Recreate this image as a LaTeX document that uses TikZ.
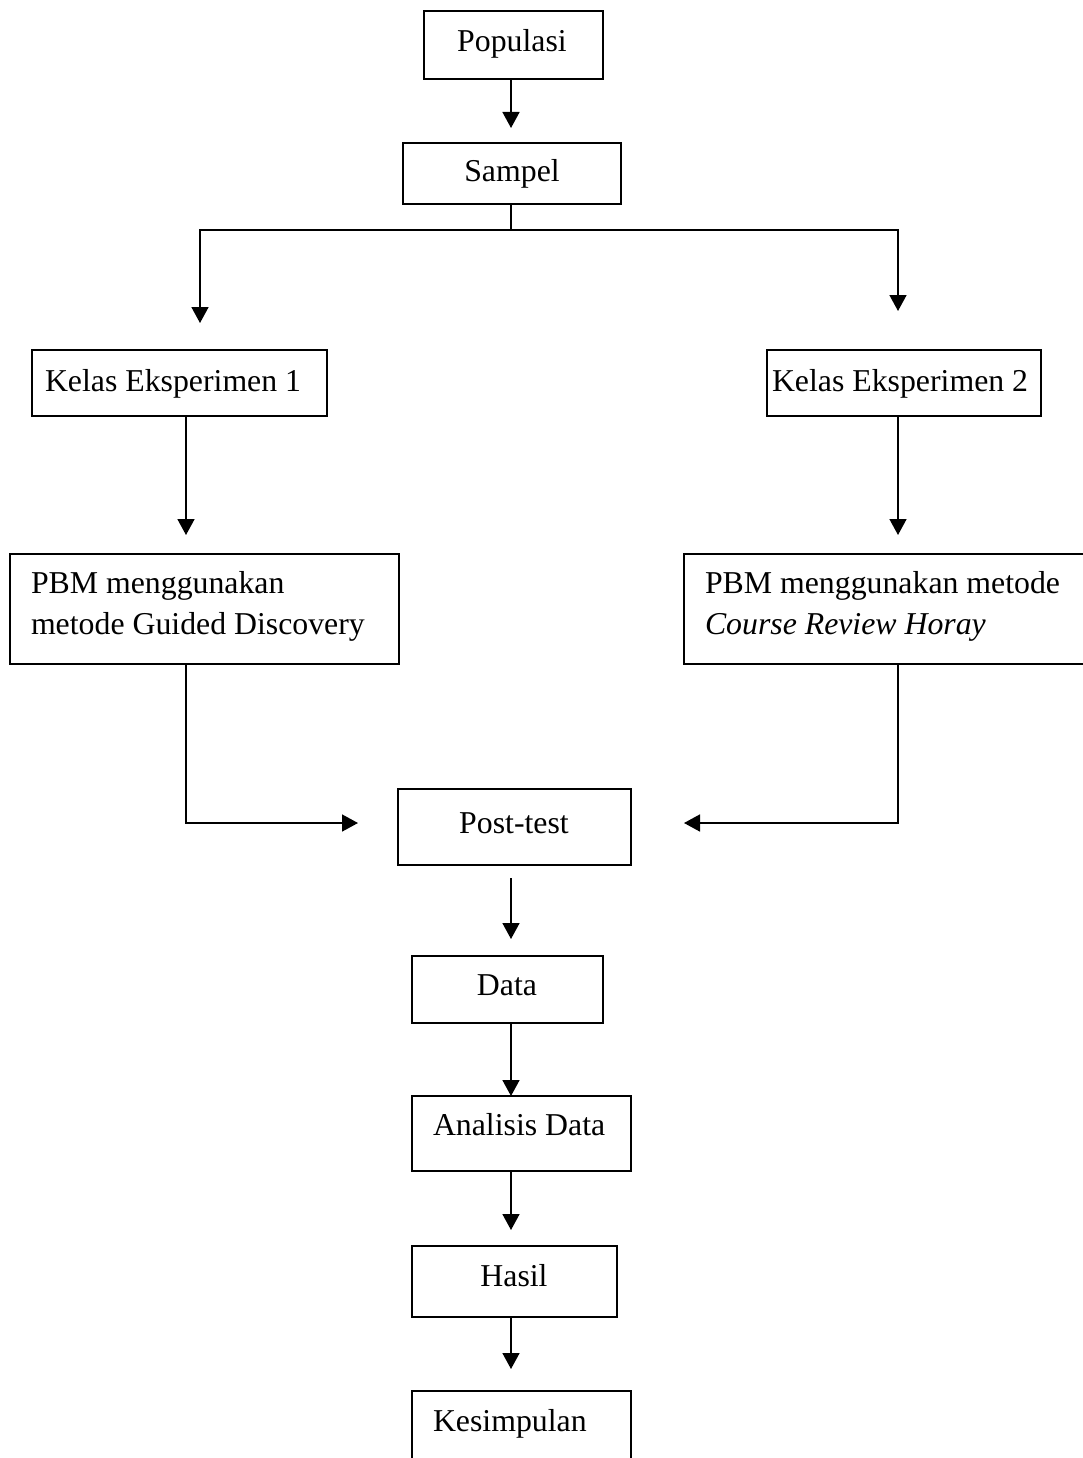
\documentclass[tikz,border=0pt]{standalone}
\usepackage{fontspec}
\setmainfont{Liberation Serif}
\usetikzlibrary{arrows.meta}
\tikzset{
  box/.style={draw=black, line width=1.8pt, inner sep=0pt, outer sep=0pt},
  lbl/.style={inner sep=0pt, outer sep=0pt, font=\fontsize{31.8}{41}\selectfont},
  conn/.style={draw=black, line width=1.6pt},
  arr/.style={conn, -{Triangle[width=17pt,length=16pt]}},
}
\begin{document}
\begin{tikzpicture}[x=1pt,y=-1pt]
\useasboundingbox (0,0) rectangle (1083,1458);
\clip (0,0) rectangle (1083,1458);

% boxes
\node[box, minimum width=179pt, minimum height=68pt] (pop) at (513.5,45) {};
\node[box, minimum width=218pt, minimum height=61pt] (samp) at (512,173.5) {};
\node[box, minimum width=295pt, minimum height=66pt] (k1) at (179.5,383) {};
\node[box, minimum width=274pt, minimum height=66pt] (k2) at (904,383) {};
\node[box, minimum width=389pt, minimum height=110pt] (p1) at (204.5,609) {};
\node[box, minimum width=416pt, minimum height=110pt] (p2) at (892,609) {};
\node[box, minimum width=233pt, minimum height=76pt] (post) at (514.5,827) {};
\node[box, minimum width=191pt, minimum height=67pt] (data) at (507.5,989.5) {};
\node[box, minimum width=219pt, minimum height=75pt] (anal) at (521.5,1133.5) {};
\node[box, minimum width=205pt, minimum height=71pt] (hasil) at (514.5,1281.5) {};
\node[box, minimum width=219pt, minimum height=79pt] (kes) at (521.5,1430.5) {};

% texts
\node[lbl, anchor=base] (tpop) at (512,52) {Populasi};
\node[lbl, anchor=base] (tsamp) at (512,182) {Sampel};
\node[lbl, anchor=base west] (tk1) at (45,391) {Kelas Eksperimen 1};
\node[lbl, anchor=base west] (tk2) at (772,391) {Kelas Eksperimen 2};
\node[lbl, anchor=base west] (tp1a) at (31,593) {PBM menggunakan};
\node[lbl, anchor=base west] (tp1b) at (31,634) {metode Guided Discovery};
\node[lbl, anchor=base west] (tp2a) at (705,593) {PBM menggunakan metode};
\node[lbl, anchor=base west] (tp2b) at (705,634) {\itshape Course Review Horay};
\node[lbl, anchor=base] (tpost) at (514,833) {Post-test};
\node[lbl, anchor=base] (tdata) at (507,995) {Data};
\node[lbl, anchor=base west] (tanal) at (433,1135) {Analisis Data};
\node[lbl, anchor=base] (thasil) at (514,1286) {Hasil};
\node[lbl, anchor=base west] (tkes) at (433,1431) {Kesimpulan};

% helper coordinates
\coordinate (cx) at (511,0);
\coordinate (lx) at (200,230);
\coordinate (rx) at (898,230);
\coordinate (l2) at (186,823);
\coordinate (r2) at (898,823);

% connectors
\draw[arr, shorten >=15pt] (pop.south -| cx) -- (samp.north -| cx);
\draw[arr, shorten >=27pt] (samp.south -| cx) -- (cx |- lx) -| (k1.north -| lx);
\draw[arr, shorten >=39pt] (samp.south -| cx) -- (cx |- rx) -| (k2.north -| rx);
\draw[arr, shorten >=19pt] (k1.south -| l2) -- (p1.north -| l2);
\draw[arr, shorten >=19pt] (k2.south -| r2) -- (p2.north -| r2);
\draw[arr, shorten >=40pt] (p1.south -| l2) |- (post.west |- l2);
\draw[arr, shorten >=53pt] (p2.south -| r2) |- (post.east |- r2);
\draw[arr, shorten <=13pt, shorten >=17pt] (post.south -| cx) -- (data.north -| cx);
\draw[arr] (data.south -| cx) -- (anal.north -| cx);
\draw[arr, shorten >=16pt] (anal.south -| cx) -- (hasil.north -| cx);
\draw[arr, shorten >=22pt] (hasil.south -| cx) -- (kes.north -| cx);
\end{tikzpicture}
\end{document}
